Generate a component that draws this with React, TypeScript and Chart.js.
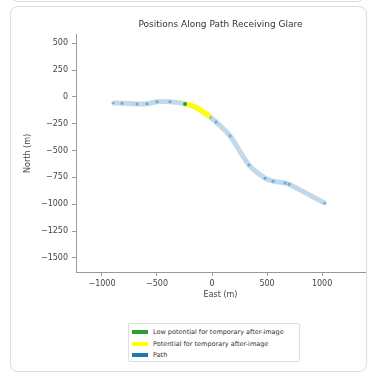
import React, { useEffect, useRef } from "react";
import { Chart, registerables } from "chart.js";

Chart.register(...registerables);

const titleText = "Positions Along Path Receiving Glare";
const xTitle = "East (m)";
const yTitle = "North (m)";

const pathEast = [-900, -818, -682, -591, -500, -382, -245, -136, -18, 36, 164, 336, 482, 555, 664, 700, 1027];
const pathNorth = [-56, -58, -65, -64, -45, -45, -65, -103, -187, -233, -364, -635, -757, -785, -803, -815, -990];

const glareEast = [-245, -190, -136, -75, -18];
const glareNorth = [-65, -80, -103, -140, -187];

const lowEast = [-245];
const lowNorth = [-65];

const xTicks = [-1000, -500, 0, 500, 1000];
const yTicks = [500, 250, 0, -250, -500, -750, -1000, -1250, -1500];

const xRange = [-1236, 1390];
const yRange = [-1632, 579];

const legendItems = [
  { label: "Low potential for temporary after-image", color: "#2ca02c" },
  { label: "Potential for temporary after-image", color: "#ffff00" },
  { label: "Path", color: "#1f77b4" },
];

const FONT = "'DejaVu Sans', sans-serif";

const fmt = (v: number) => (v < 0 ? "\u2212" + Math.abs(v) : String(v));

export default function App() {
  const ref = useRef<HTMLCanvasElement | null>(null);

  useEffect(() => {
    if (!ref.current) return;
    const toPts = (xs: number[], ys: number[]) => xs.map((x, i) => ({ x, y: ys[i] }));
    const chart = new Chart(ref.current, {
      type: "scatter",
      data: {
        datasets: [
          {
            label: "Path",
            data: toPts(pathEast, pathNorth),
            showLine: true,
            borderColor: "rgba(31,119,180,0.28)",
            borderWidth: 5,
            pointRadius: 1.5,
            pointBackgroundColor: "rgba(31,119,180,0.5)",
            pointBorderWidth: 0,
            tension: 0.3,
            order: 3,
          },
          {
            label: "Potential",
            data: toPts(glareEast, glareNorth),
            showLine: true,
            borderColor: "#ffff00",
            borderWidth: 5,
            pointRadius: 0,
            tension: 0.3,
            order: 2,
          },
          {
            label: "Low",
            data: toPts(lowEast, lowNorth),
            pointRadius: 2,
            pointBackgroundColor: "#2ca02c",
            pointBorderWidth: 0,
            order: 1,
          },
        ],
      },
      options: {
        animation: false,
        responsive: false,
        maintainAspectRatio: false,
        layout: { padding: { left: 0, right: 6, top: 0, bottom: 74 } },
        plugins: {
          legend: { display: false },
          tooltip: { enabled: false },
          title: {
            display: true,
            fullSize: false,
            text: titleText,
            color: "#333",
            font: { family: FONT, size: 9, weight: "normal" },
            padding: { top: 19, bottom: 5 },
          },
        },
        scales: {
          x: {
            type: "linear",
            min: xRange[0],
            max: xRange[1],
            afterBuildTicks: (s: any) => {
              s.ticks = xTicks.map((v) => ({ value: v }));
            },
            afterFit: (s: any) => {
              s.height = 28;
            },
            ticks: {
              color: "#444",
              font: { family: FONT, size: 8 },
              padding: 3,
              maxRotation: 0,
              autoSkip: false,
              callback: (v: any) => fmt(Number(v)),
            },
            grid: { drawOnChartArea: false, tickLength: 4, color: "#999" },
            border: { display: true, color: "#999" },
            title: {
              display: true,
              text: xTitle,
              color: "#444",
              font: { family: FONT, size: 8 },
              padding: { top: 0, bottom: 0 },
            },
          },
          y: {
            type: "linear",
            min: yRange[0],
            max: yRange[1],
            afterBuildTicks: (s: any) => {
              s.ticks = yTicks.map((v) => ({ value: v }));
            },
            afterFit: (s: any) => {
              s.width = 76;
            },
            ticks: {
              color: "#444",
              font: { family: FONT, size: 8 },
              padding: 4,
              autoSkip: false,
              callback: (v: any) => fmt(Number(v)),
            },
            grid: { drawOnChartArea: false, tickLength: 4, color: "#999" },
            border: { display: true, color: "#999" },
            title: {
              display: true,
              text: yTitle,
              color: "#444",
              font: { family: FONT, size: 8 },
              padding: { top: 23, bottom: 0 },
            },
          },
        },
      },
    } as any);
    return () => chart.destroy();
  }, []);

  return (
    <div style={{ position: "fixed", left: 0, top: 0, width: 371, height: 374, background: "#fff", overflow: "hidden" }}>
      <div
        style={{
          position: "absolute",
          left: 10,
          top: -20,
          width: 355,
          height: 22,
          border: "1px solid #ddd",
          borderRadius: 8,
          boxSizing: "border-box",
        }}
      />
      <div
        style={{
          position: "absolute",
          left: 10,
          top: 6,
          width: 357,
          height: 366,
          border: "1px solid #ddd",
          borderRadius: 8,
          boxSizing: "border-box",
        }}
      />
      <canvas ref={ref} width={371} height={374} style={{ position: "absolute", left: 0, top: 0, width: 371, height: 374 }} />
      <div
        style={{
          position: "absolute",
          left: 128,
          top: 323,
          width: 172,
          height: 39,
          border: "1px solid #ddd",
          borderRadius: 2,
          boxSizing: "border-box",
          background: "#fff",
          fontFamily: FONT,
          fontSize: 6.5,
          color: "#333",
        }}
      >
        {legendItems.map((it, i) => (
          <div
            key={it.label}
            style={{ position: "absolute", left: 3, top: 3 + i * 11.5, height: 10, display: "flex", alignItems: "center", whiteSpace: "nowrap" }}
          >
            <span style={{ display: "inline-block", width: 16, height: 4, background: it.color, marginRight: 5 }} />
            <span>{it.label}</span>
          </div>
        ))}
      </div>
    </div>
  );
}
